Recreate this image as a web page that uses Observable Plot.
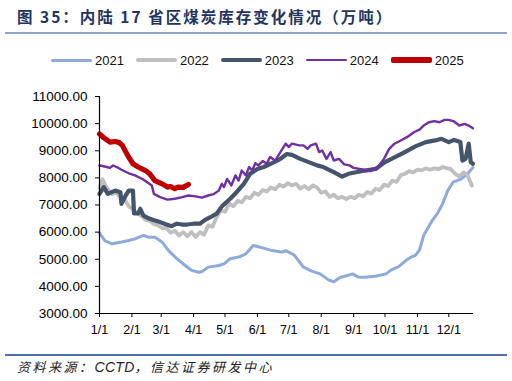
<!DOCTYPE html>
<html>
<head>
<meta charset="utf-8">
<script src="https://cdn.jsdelivr.net/npm/d3@7"></script>
<script src="https://cdn.jsdelivr.net/npm/@observablehq/plot@0.6"></script>
<style>
  html, body { margin: 0; padding: 0; background: #fff; }
  #root { position: relative; width: 512px; height: 381px; overflow: hidden; background: #fff; }
  #title { position: absolute; left: 17px; top: 5px; font-family: "Noto Sans CJK SC", "Liberation Sans", sans-serif; font-weight: bold; font-size: 15.5px; letter-spacing: 2px; color: #1f3560; white-space: nowrap; }
  #rule1 { position: absolute; left: 5px; top: 32px; width: 502px; height: 2px; background: #8ba6c9; }
  #legend { position: absolute; left: 51px; top: 51px; height: 18px; display: flex; align-items: center; gap: 12px; font-family: "Liberation Sans", Arial, sans-serif; font-size: 13px; color: #111; }
  .item { display: flex; align-items: center; }
  .sw { width: 41px; margin-right: 3px; border-radius: 2px; }
  #chart { position: absolute; left: 0; top: 78px; }
  #rule2 { position: absolute; left: 5px; top: 354px; width: 502px; height: 2px; background: #4d6fa6; }
  #caption { position: absolute; left: 17px; top: 357px; font-family: "Noto Sans CJK SC", "Liberation Sans", sans-serif; font-style: italic; font-size: 13px; letter-spacing: 2.5px; color: #222; white-space: nowrap; }
  #caption .lat { font-family: "Liberation Sans", Arial, sans-serif; font-size: 14px; letter-spacing: 0.3px; }
</style>
</head>
<body>
<div id="root">
  <div id="title">图 35：内陆 17 省区煤炭库存变化情况（万吨）</div>
  <div id="rule1"></div>
  <div id="legend"></div>
  <div id="chart"></div>
  <div id="rule2"></div>
  <div id="caption">资料来源：<span class="lat">CCTD</span>，信达证券研发中心</div>
</div>
<script>
// ---- data (day of year, 0 = 1/1; values in 万吨) ----
const seriesNames = ["2021", "2022", "2023", "2024", "2025"];

const days2021 = [0,5,12,20,28,34,42,47,53,60,66,74,82,88,95,98,104,114,119,125,133,140,147,156,165,175,178,186,195,203,211,219,224,230,237,242,247,254,265,274,279,286,293,298,302,306,310,314,318,323,328,333,338,346,352,357];
const vals2021 = [5975,5690,5570,5630,5690,5750,5880,5810,5810,5630,5320,5020,4770,4590,4520,4550,4710,4770,4830,5020,5080,5200,5510,5420,5320,5260,5320,5160,4710,4560,4460,4240,4170,4330,4400,4460,4350,4340,4380,4460,4610,4730,4950,5080,5140,5340,5880,6150,6420,6680,7040,7530,7840,7960,8150,8380];

const days2022 = [0,3,6,9,12,16,20,24,28,32,36,40,44,48,52,56,60,64,68,72,76,80,84,88,92,96,100,104,108,112,116,120,124,128,132,136,140,144,148,152,156,160,164,168,172,176,180,184,188,192,196,200,204,208,212,216,220,224,228,232,236,240,244,248,252,256,260,264,268,272,276,280,284,288,292,296,300,304,308,312,316,320,324,328,332,336,340,344,348,352,356];
const vals2022 = [7650,7950,7700,7530,7400,7450,7290,7200,6950,6850,6700,6600,6450,6420,6300,6250,6150,6150,5980,6050,5880,6000,5850,6000,5820,6000,5900,6250,6200,6550,6800,6750,7050,6950,7150,7100,7300,7250,7450,7380,7550,7500,7650,7580,7750,7680,7800,7720,7780,7600,7700,7580,7720,7650,7450,7500,7300,7380,7250,7300,7220,7300,7250,7380,7320,7480,7420,7600,7550,7750,7700,7900,7850,8100,8150,8250,8200,8300,8280,8350,8300,8350,8320,8400,8360,8320,8150,8050,8200,8100,7720];

const days2023 = [0,4,8,15,20,21,25,28,32,33,37,39,42,48,53,58,64,69,74,79,84,90,96,101,106,112,117,125,131,138,144,151,157,167,173,179,184,192,200,208,214,224,232,238,254,264,273,283,292,302,312,321,327,334,339,345,347,350,353,355,357];
const vals2023 = [7410,7660,7410,7530,7470,7040,7350,7530,7530,6690,6690,6860,6610,6490,6430,6370,6280,6220,6310,6280,6280,6310,6310,6450,6550,6680,6950,7230,7470,7780,8150,8330,8400,8580,8700,8880,8850,8700,8580,8460,8400,8210,8050,8150,8270,8330,8580,8770,8950,9160,9320,9380,9440,9320,9400,9320,8640,8700,9260,8580,8520];

const days2024 = [0,5,10,13,17,21,28,34,41,47,50,52,58,65,72,79,85,92,98,104,109,114,117,119,122,126,130,133,136,140,143,146,149,152,156,160,163,168,173,178,181,184,191,195,199,202,207,210,213,217,221,224,229,234,239,243,253,259,266,272,277,282,288,294,301,306,310,315,320,325,330,334,339,344,349,353,357];
const vals2024 = [8456,8420,8370,8456,8390,8300,8170,8090,7960,7800,7720,7410,7290,7200,7230,7290,7350,7320,7270,7350,7400,7530,7780,7660,7960,7720,8090,7900,8270,8090,8400,8270,8540,8460,8620,8520,8770,8640,8950,9260,9140,9260,9200,9200,9070,9200,9260,8950,9010,8700,8950,8640,8700,8500,8460,8370,8300,8250,8400,8700,9070,9260,9380,9500,9690,9780,9930,10050,10090,10050,10140,10140,10080,9930,9990,9930,9830];

const days2025 = [0,4,10,15,19,22,27,32,37,44,48,53,60,65,68,72,75,80,85];
const vals2025 = [9620,9480,9320,9340,9300,9190,8820,8520,8400,8270,8150,7900,7780,7660,7680,7600,7660,7650,7760];

const monthStartDays = [0,31,59,90,120,151,181,212,243,273,304,334];
const monthLabels = ["1/1","2/1","3/1","4/1","5/1","6/1","7/1","8/1","9/1","10/1","11/1","12/1"];
const yTicks = [3000,4000,5000,6000,7000,8000,9000,10000,11000];

// ---- styles ----
const colors = ["#8eaadb", "#bfbfbf", "#44546a", "#7030a0", "#c00000"];
const widths = [3, 3.8, 4.2, 2.4, 5.2];

const allDays = [days2021, days2022, days2023, days2024, days2025];
const allVals = [vals2021, vals2022, vals2023, vals2024, vals2025];

const rows = [];
seriesNames.forEach((s, k) => {
  allDays[k].forEach((d, i) => rows.push({series: s, day: d, value: allVals[k][i]}));
});

// legend
const legend = document.getElementById("legend");
seriesNames.forEach((s, k) => {
  const it = document.createElement("div");
  it.className = "item";
  const sw = document.createElement("div");
  sw.className = "sw";
  sw.style.height = Math.max(2, widths[k]) + "px";
  sw.style.background = colors[k];
  const lb = document.createElement("span");
  lb.textContent = s;
  it.appendChild(sw); it.appendChild(lb);
  legend.appendChild(it);
});

const lineMarks = seriesNames.map((s, k) =>
  Plot.line(rows.filter(r => r.series === s), {
    x: "day", y: "value", stroke: colors[k], strokeWidth: widths[k],
    strokeLinejoin: "round", strokeLinecap: "round", curve: "linear"
  })
);

const chart = Plot.plot({
  width: 512,
  height: 268,
  marginLeft: 99,
  marginRight: 39,
  marginTop: 18,
  marginBottom: 33,
  style: {fontFamily: "'Liberation Sans', Arial, sans-serif", fontSize: "13px", color: "#000", background: "transparent"},
  x: {type: "linear", domain: [0, 357.6]},
  y: {domain: [3000, 11000]},
  marks: [
    ...lineMarks,
    Plot.ruleX([0], {stroke: "#000", strokeWidth: 1.2}),
    Plot.ruleY([3000], {stroke: "#000", strokeWidth: 1.2}),
    Plot.axisY({ticks: yTicks, tickFormat: d => d.toFixed(2), tickSize: 4, tickPadding: 8, label: null, fontSize: 13.5, stroke: "#000"}),
    Plot.axisX({ticks: monthStartDays, tickFormat: d => monthLabels[monthStartDays.indexOf(d)], tickSize: 4, tickPadding: 8, label: null, fontSize: 12.5, stroke: "#000"})
  ]
});
document.getElementById("chart").appendChild(chart);
</script>
</body>
</html>
